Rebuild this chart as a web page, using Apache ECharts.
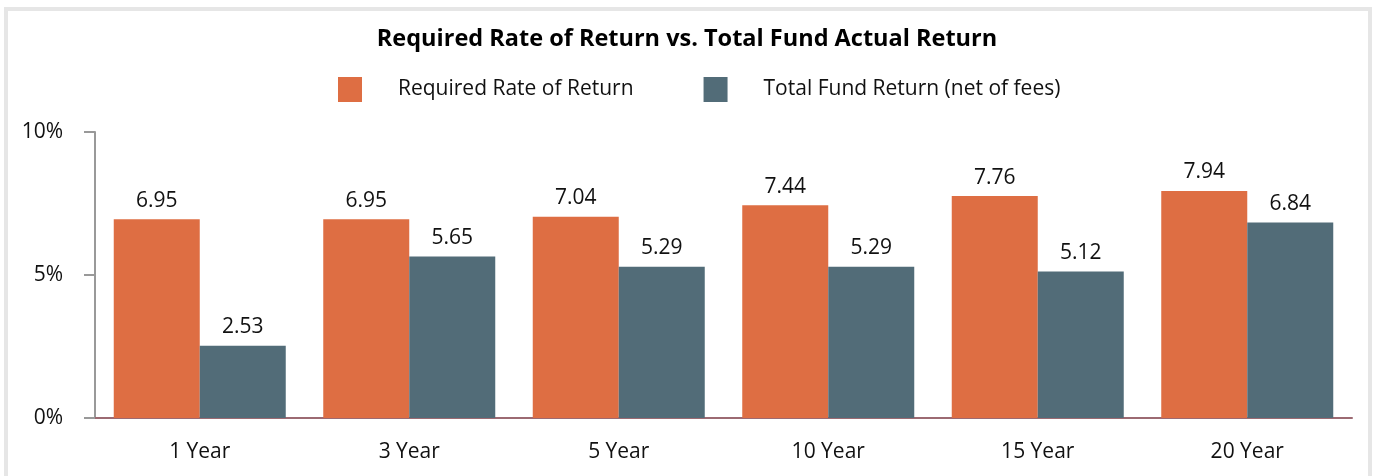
<!DOCTYPE html>
<html>
<head>
<meta charset="utf-8">
<script src="https://cdn.jsdelivr.net/npm/echarts@6/dist/echarts.min.js"></script>
<style>
  html, body { margin: 0; padding: 0; background: #fff; }
  #frame {
    position: absolute; left: 4px; top: 7px; width: 1360px; height: 480px;
    border: 4px solid #e6e6e6; border-bottom: none; background: #fff;
  }
  #chart { position: absolute; left: 0; top: 0; width: 1374px; height: 476px; }
</style>
</head>
<body>
<div id="frame"></div>
<div id="chart"></div>
<script>
var periods = ["1 Year", "3 Year", "5 Year", "10 Year", "15 Year", "20 Year"];
var requiredRate = [6.95, 6.95, 7.04, 7.44, 7.76, 7.94];
var fundReturn = [2.53, 5.65, 5.29, 5.29, 5.12, 6.84];
var yTicks = [0, 5, 10];

var fontName = "Open Sans";

var myChart = echarts.init(document.getElementById("chart"));

var option = {
    animation: false,
    title: {
        text: "Required Rate of Return vs. Total Fund Actual Return",
        left: "center",
        top: 22,
        textStyle: { fontFamily: fontName, fontSize: 23.5, fontWeight: "bold", color: "#000" }
    },
    legend: {
        data: ["Required Rate of Return", "Total Fund Return (net of fees)"],
        top: 77,
        left: 338,
        padding: 0,
        itemWidth: 24,
        itemHeight: 25,
        itemGap: 70,
        icon: "rect",
        textStyle: { fontFamily: fontName, fontSize: 21, color: "#111", padding: [0, 0, 0, 31] }
    },
    grid: { left: 95, right: 22, top: 132, bottom: 58 },
    xAxis: [{
        type: "category",
        data: periods,
        axisTick: { show: false },
        axisLine: { lineStyle: { color: "#9c6a72", width: 2 } },
        axisLabel: { fontFamily: fontName, fontSize: 21, color: "#111", margin: 24 }
    }],
    yAxis: [{
        type: "value",
        min: yTicks[0],
        max: yTicks[yTicks.length - 1],
        interval: 5,
        splitLine: { show: false },
        axisLine: { show: true, lineStyle: { color: "#999", width: 2 } },
        axisTick: { show: true, length: 11, lineStyle: { color: "#999", width: 2 } },
        axisLabel: { fontFamily: fontName, fontSize: 21, color: "#111", margin: 32,
            formatter: function (v) { return v + "%"; } }
    }],
    series: [
        {
            name: "Required Rate of Return",
            type: "bar",
            data: requiredRate,
            barWidth: 86,
            barGap: "0%",
            itemStyle: { color: "#de6e43" },
            label: { show: true, position: "top", distance: 8, fontFamily: fontName, fontSize: 21, color: "#111",
                formatter: function (p) { return p.value.toFixed(2); } }
        },
        {
            name: "Total Fund Return (net of fees)",
            type: "bar",
            data: fundReturn,
            barWidth: 86,
            barGap: "0%",
            itemStyle: { color: "#526c78" },
            label: { show: true, position: "top", distance: 8, fontFamily: fontName, fontSize: 21, color: "#111",
                formatter: function (p) { return p.value.toFixed(2); } }
        }
    ]
};

myChart.setOption(option);
</script>
</body>
</html>
